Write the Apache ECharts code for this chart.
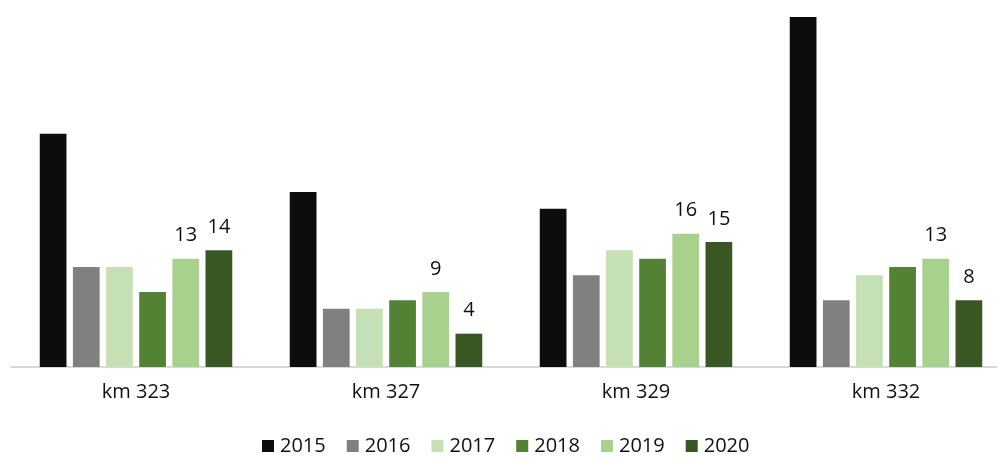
<!DOCTYPE html>
<html lang="en">
<head>
    <meta charset="UTF-8">
    <title>km chart</title>
    <style>
        html, body {
            margin: 0;
            padding: 0;
            background: white;
        }

        #chart {
            height: 457px;
            width: 997px;
        }
    </style>
    <script src="https://cdn.jsdelivr.net/npm/echarts@6/dist/echarts.min.js"></script>
</head>
<body>
    <div id="chart"></div>
    <script>
        // categories and series
        const categories = ['km 323', 'km 327', 'km 329', 'km 332'];
        const years = ['2015', '2016', '2017', '2018', '2019', '2020'];
        const v2015 = [28, 21, 19, 42];
        const v2016 = [12, 7, 11, 8];
        const v2017 = [12, 7, 14, 11];
        const v2018 = [9, 8, 13, 12];
        const v2019 = [13, 9, 16, 13];
        const v2020 = [14, 4, 15, 8];
        const colors = ['#0d0d0d', '#808080', '#c5e0b4', '#548235', '#a9d18e', '#385723'];

        const font = '"Open Sans", sans-serif';
        const values = [v2015, v2016, v2017, v2018, v2019, v2020];
        // only the last two years have value labels
        const labelled = [false, false, false, false, true, true];

        let series = [];
        for (let i in years) {
            series.push({
                name: years[i],
                type: 'bar',
                data: values[i],
                barGap: '24%',
                barCategoryGap: '23%',
                itemStyle: {color: colors[i]},
                label: {
                    show: labelled[i],
                    position: 'top',
                    distance: 13,
                    color: '#111',
                    fontFamily: font,
                    fontSize: 20
                }
            });
        }

        let fig = echarts.init(document.getElementById('chart'), null, {renderer: 'canvas'});
        fig.setOption({
            animation: false,
            // the axis runs a little past the right edge of the picture
            grid: {left: 11, width: 1000, top: 17, bottom: 90, outerBoundsMode: 'none', containLabel: false},
            xAxis: {
                type: 'category',
                data: categories,
                axisLine: {lineStyle: {color: '#d9d9d9', width: 2}},
                axisTick: {show: false},
                axisLabel: {color: '#111', fontFamily: font, fontSize: 20, margin: 15}
            },
            yAxis: {
                type: 'value',
                min: 0,
                max: 42,
                show: false,
                splitLine: {show: false}
            },
            legend: {
                data: years,
                top: 436,
                left: 262,
                padding: 0,
                icon: 'rect',
                itemWidth: 12,
                itemHeight: 12,
                itemGap: 21,
                textStyle: {color: '#111', fontFamily: font, fontSize: 20, padding: [0, 0, 0, 1]}
            },
            series: series
        });
    </script>
</body>
</html>
